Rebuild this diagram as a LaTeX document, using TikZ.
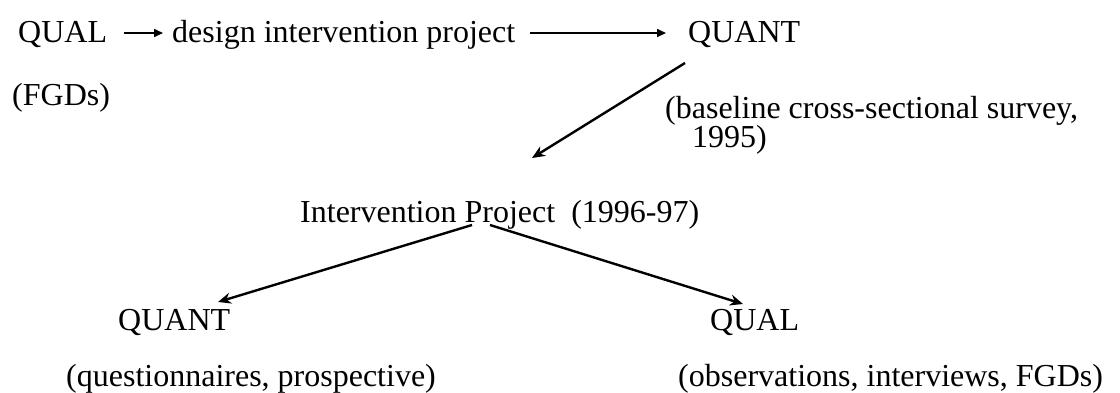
\documentclass[tikz,border=0pt]{standalone}
\usepackage{fontspec}
\setmainfont{Liberation Serif}
\usetikzlibrary{arrows.meta}
\begin{document}
\begin{tikzpicture}[x=1pt,y=-1pt,
  txt/.style={anchor=base west,inner sep=0pt,font=\fontsize{32}{38}\selectfont},
  thinarrow/.style={line width=1.6pt,-{Triangle[length=9pt,width=8pt]}},
  thickarrow/.style={line width=2.4pt,-{Stealth[length=13pt,width=11pt]}}]
\useasboundingbox (0,0) rectangle (1120,392);
\node[txt] (qual1) at (18,42) {QUAL};
\node[txt] (design) at (172,42) {design intervention project};
\node[txt] (quant1) at (688,42) {QUANT};
\node[txt] (fgds) at (12,105) {(FGDs)};
\node[txt] (base1) at (665,118) {(baseline cross-sectional survey,};
\node[txt] (base2) at (692,147) {1995)};
\node[txt] (ip) at (300,222) {Intervention Project\ \ (1996-97)};
\node[txt] (quant2) at (118,330) {QUANT};
\node[txt] (qual2) at (710,330) {QUAL};
\node[txt] (quest) at (66,386) {(questionnaires, prospective)};
\node[txt] (obs) at (678,386) {(observations, interviews, FGDs)};
\coordinate (a1s) at (124,33);
\coordinate (a1e) at (163,33);
\coordinate (a2s) at (530,33);
\coordinate (a2e) at (666,33);
\coordinate (d1s) at (685,63);
\coordinate (d1e) at (532,158);
\coordinate (l1s) at (472,225);
\coordinate (l1e) at (218,302);
\coordinate (r1s) at (490,225);
\coordinate (r1e) at (743,304);
\draw[thinarrow] (a1s) -- (a1e);
\draw[thinarrow] (a2s) -- (a2e);
\draw[thickarrow] (d1s) -- (d1e);
\draw[thickarrow] (l1s) -- (l1e);
\draw[thickarrow] (r1s) -- (r1e);
\end{tikzpicture}
\end{document}
